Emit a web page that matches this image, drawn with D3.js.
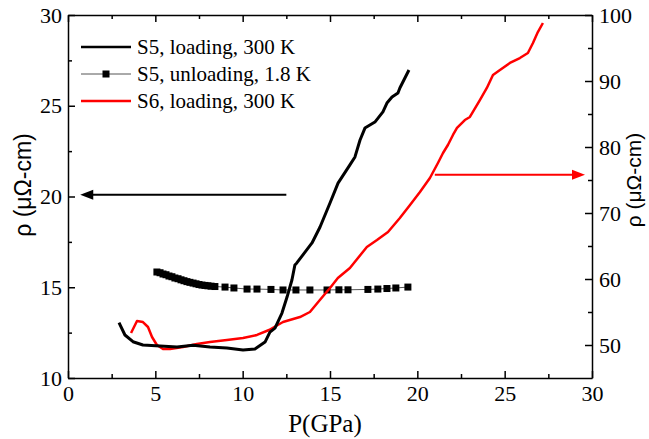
<!DOCTYPE html>
<html>
<head>
<meta charset="utf-8">
<style>
  body { margin: 0; background: #fff; }
  .axis path, .axis line { stroke: #000; stroke-width: 1.5px; }
</style>
</head>
<body>
<svg width="649" height="439"></svg>
<script src="https://d3js.org/d3.v7.min.js"></script>
<script>

// S5, loading, 300 K  (left axis)
var s5LoadP   = [2.92, 3.26, 3.72, 4.29, 5.27, 6.24, 7.16, 8.13, 9.10, 10.02, 10.70, 11.28, 11.56, 11.85, 12.25, 12.54, 12.82, 12.99, 13.10, 13.45, 13.97, 14.43, 15.00, 15.46, 16.14, 16.43, 16.72, 17.00, 17.57, 18.03, 18.26, 18.55, 18.89, 19.00, 19.52];
var s5LoadRho = [13.05, 12.37, 12.00, 11.82, 11.76, 11.71, 11.80, 11.71, 11.65, 11.54, 11.60, 11.98, 12.53, 12.75, 13.58, 14.46, 15.40, 16.23, 16.34, 16.78, 17.44, 18.32, 19.64, 20.74, 21.74, 22.18, 23.11, 23.77, 24.10, 24.66, 25.15, 25.48, 25.70, 25.98, 26.97];

// S5, unloading, 1.8 K  (left axis)
var s5UnP   = [5.09, 5.27, 5.44, 5.61, 5.78, 5.95, 6.12, 6.30, 6.47, 6.64, 6.81, 6.98, 7.16, 7.33, 7.50, 7.67, 7.84, 8.01, 8.19, 8.41, 8.99, 9.50, 10.25, 10.82, 11.62, 12.31, 13.05, 13.85, 14.83, 15.51, 16.03, 17.17, 17.74, 18.26, 18.77, 19.46];
var s5UnRho = [15.84, 15.80, 15.73, 15.69, 15.62, 15.58, 15.51, 15.47, 15.41, 15.36, 15.31, 15.27, 15.23, 15.19, 15.15, 15.12, 15.10, 15.08, 15.06, 15.04, 15.01, 14.96, 14.90, 14.90, 14.88, 14.85, 14.85, 14.85, 14.85, 14.86, 14.86, 14.88, 14.90, 14.93, 14.96, 15.01];

// S6, loading, 300 K  (right axis)
var s6P   = [3.61, 3.95, 4.29, 4.58, 4.81, 5.09, 5.44, 5.84, 6.58, 7.38, 8.13, 9.10, 10.02, 10.82, 11.51, 12.31, 13.28, 13.85, 14.42, 15.00, 15.45, 16.14, 17.11, 17.69, 18.32, 19.00, 19.58, 20.15, 20.72, 21.18, 21.47, 21.75, 22.04, 22.27, 22.72, 23.01, 23.58, 23.98, 24.33, 24.73, 25.30, 25.87, 26.33, 26.62, 26.90, 27.19];
var s6Rho = [51.82, 53.64, 53.48, 52.73, 51.21, 50.00, 49.39, 49.39, 49.70, 50.15, 50.45, 50.76, 51.06, 51.52, 52.27, 53.48, 54.24, 55.00, 56.82, 58.64, 60.15, 61.67, 64.85, 65.91, 67.12, 69.24, 71.21, 73.18, 75.30, 77.58, 79.09, 80.30, 81.82, 82.88, 84.09, 84.55, 87.12, 88.94, 90.91, 91.67, 92.73, 93.48, 94.24, 95.76, 97.42, 98.79];

var xTicks = [0, 5, 10, 15, 20, 25, 30];
var yLeftTicks = [10, 15, 20, 25, 30];
var yRightTicks = [50, 60, 70, 80, 90, 100];
var legendLabels = ["S5, loading, 300 K", "S5, unloading, 1.8 K", "S6, loading, 300 K"];

var serif = "'Liberation Serif', 'Times New Roman', serif";
var sans = "'Liberation Sans', Arial, sans-serif";

var svg = d3.select("svg");
var margin = {left: 68, right: 57, top: 15, bottom: 61};
var W = 649, H = 439;

var x = d3.scaleLinear().domain([0, 30]).range([margin.left, W - margin.right]);
var yL = d3.scaleLinear().domain([10, 30]).range([H - margin.bottom, margin.top]);
var yR = d3.scaleLinear().domain([45, 100]).range([H - margin.bottom, margin.top]);

function zip(a, b) { return a.map(function(v, i) { return [v, b[i]]; }); }

// minor ticks
function minorAxis(axis, vals, pos) {
  svg.append("g").attr("class", "axis").attr("transform", pos)
    .call(axis.tickValues(vals).tickSize(-4).tickFormat(""))
    .select(".domain").remove();
}
minorAxis(d3.axisBottom(x), [2.5, 7.5, 12.5, 17.5, 22.5, 27.5], "translate(0," + yL(10) + ")");
minorAxis(d3.axisTop(x), [2.5, 7.5, 12.5, 17.5, 22.5, 27.5], "translate(0," + yL(30) + ")");
minorAxis(d3.axisLeft(yL), [12.5, 17.5, 22.5, 27.5], "translate(" + x(0) + ",0)");
minorAxis(d3.axisRight(yR), [55, 65, 75, 85, 95], "translate(" + x(30) + ",0)");

function styleTicks(g) {
  g.selectAll(".tick text")
    .style("font-family", serif).style("font-size", "22px").attr("fill", "#000");
}

svg.append("g").attr("class", "axis")
  .attr("transform", "translate(0," + yL(10) + ")")
  .call(d3.axisBottom(x).tickValues(xTicks).tickSize(-7).tickPadding(7).tickSizeOuter(0))
  .call(styleTicks);
svg.append("g").attr("class", "axis")
  .attr("transform", "translate(0," + yL(30) + ")")
  .call(d3.axisTop(x).tickValues(xTicks).tickSize(-7).tickFormat("").tickSizeOuter(0));
svg.append("g").attr("class", "axis")
  .attr("transform", "translate(" + x(0) + ",0)")
  .call(d3.axisLeft(yL).tickValues(yLeftTicks).tickSize(-7).tickPadding(6).tickSizeOuter(0))
  .call(styleTicks);
svg.append("g").attr("class", "axis")
  .attr("transform", "translate(" + x(30) + ",0)")
  .call(d3.axisRight(yR).tickValues(yRightTicks).tickSize(-7).tickPadding(7).tickSizeOuter(0))
  .call(styleTicks);

// axis titles
svg.append("text").attr("x", x(15) - 5).attr("y", 432)
  .attr("text-anchor", "middle")
  .style("font-family", serif).style("font-size", "25px")
  .text("P(GPa)");
svg.append("text").attr("transform", "translate(31,185) rotate(-90)")
  .attr("text-anchor", "middle")
  .style("font-family", sans).style("font-size", "23px")
  .text("ρ (μΩ-cm)");
svg.append("text").attr("transform", "translate(641,180) rotate(-90)")
  .attr("text-anchor", "middle")
  .style("font-family", sans).style("font-size", "21px")
  .text("ρ (μΩ-cm)");

var lineL = d3.line().x(function(d) { return x(d[0]); }).y(function(d) { return yL(d[1]); });
var lineR = d3.line().x(function(d) { return x(d[0]); }).y(function(d) { return yR(d[1]); });

// S5 unloading: thin line + squares
var un = zip(s5UnP, s5UnRho);
svg.append("path").datum(un).attr("d", lineL)
  .attr("fill", "none").attr("stroke", "#555").attr("stroke-width", 1);
svg.append("g").selectAll("rect").data(un).enter().append("rect")
  .attr("x", function(d) { return x(d[0]) - 3.5; })
  .attr("y", function(d) { return yL(d[1]) - 3.5; })
  .attr("width", 7).attr("height", 7).attr("fill", "#000");

// S6 loading (red, right axis)
svg.append("path").datum(zip(s6P, s6Rho)).attr("d", lineR)
  .attr("fill", "none").attr("stroke", "#ff0000").attr("stroke-width", 2.5)
  .attr("stroke-linejoin", "round");

// S5 loading (black, left axis)
svg.append("path").datum(zip(s5LoadP, s5LoadRho)).attr("d", lineL)
  .attr("fill", "none").attr("stroke", "#000").attr("stroke-width", 3)
  .attr("stroke-linejoin", "round");

// arrows
function arrow(x1, x2, yy, col) {
  var dir = x2 < x1 ? 1 : -1;
  svg.append("line").attr("x1", x1).attr("x2", x2 + dir * 10).attr("y1", yy).attr("y2", yy)
    .attr("stroke", col).attr("stroke-width", 2);
  svg.append("path")
    .attr("d", "M" + x2 + "," + yy + "L" + (x2 + dir * 13) + "," + (yy - 5) + "L" + (x2 + dir * 13) + "," + (yy + 5) + "Z")
    .attr("fill", col);
}
arrow(x(12.5), x(0.7), yL(20.1), "#000");
arrow(x(21.0), x(29.6), yR(75.8), "#ff0000");

// legend
var lg = svg.append("g");
var rowsY = [47, 74, 101];
legendLabels.forEach(function(t, i) {
  var yy = rowsY[i];
  if (i === 1) {
    lg.append("line").attr("x1", 81).attr("x2", 131).attr("y1", yy).attr("y2", yy)
      .attr("stroke", "#555").attr("stroke-width", 1);
    lg.append("rect").attr("x", 102.5).attr("y", yy - 3.5).attr("width", 7).attr("height", 7).attr("fill", "#000");
  } else {
    lg.append("line").attr("x1", 81).attr("x2", 131).attr("y1", yy).attr("y2", yy)
      .attr("stroke", i === 0 ? "#000" : "#ff0000").attr("stroke-width", 2.5);
  }
  lg.append("text").attr("x", 137).attr("y", yy + 7)
    .style("font-family", serif).style("font-size", "21px").text(t);
});

</script>
</body>
</html>
